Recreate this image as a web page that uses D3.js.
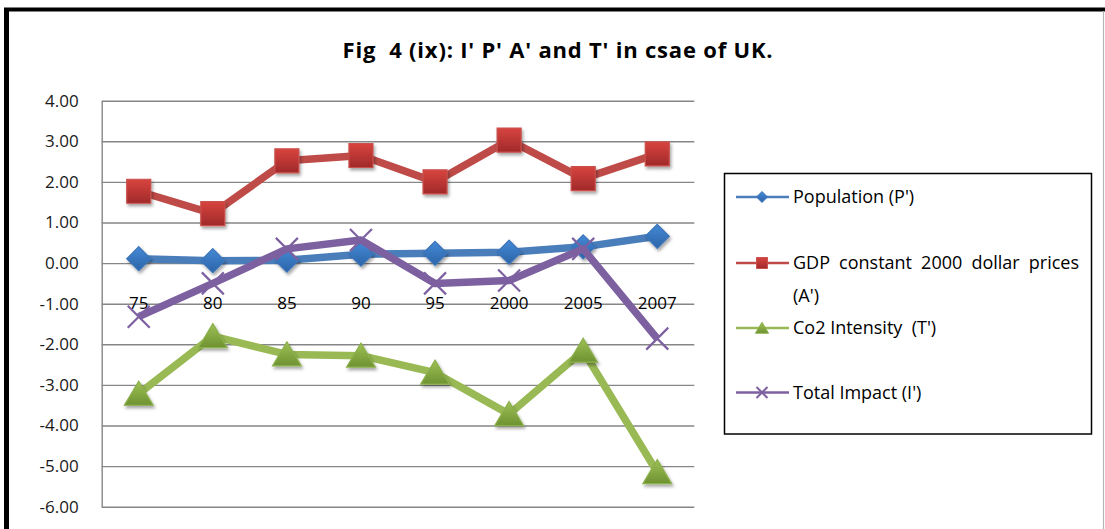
<!DOCTYPE html>
<html>
<head>
<meta charset="utf-8">
<script src="https://cdn.jsdelivr.net/npm/d3@7"></script>
<style>
  html, body { margin: 0; padding: 0; background: #fff; }
  svg { display: block; font-family: "Open Sans", "Noto Sans", sans-serif; }
</style>
</head>
<body>
<svg id="chart" width="1105" height="529"></svg>
<script>
// Years on the category axis
const years = ["75", "80", "85", "90", "95", "2000", "2005", "2007"];

// Series values
const population   = [0.11, 0.06, 0.07, 0.22, 0.24, 0.27, 0.40, 0.66];
const gdp          = [1.77, 1.22, 2.52, 2.65, 2.00, 3.03, 2.08, 2.69];
const co2Intensity = [-3.22, -1.80, -2.25, -2.28, -2.70, -3.72, -2.16, -5.15];
const totalImpact  = [-1.32, -0.50, 0.35, 0.57, -0.50, -0.43, 0.35, -1.86];

// Y-axis tick values
const yTicks = [4, 3, 2, 1, 0, -1, -2, -3, -4, -5, -6];

const titleText = "Fig \u00A04 (ix): I' P' A' and T' in csae of UK.";

const seriesNames = ["Population (P')", "GDP constant 2000 dollar prices (A')", "Co2 Intensity \u00A0(T')", "Total Impact (I')"];

const series = [
  { name: seriesNames[0], values: population,   line: "#4a7ebb", marker: "diamond",  top: "#4489d6", bottom: "#2c64a8", edge: "#3b74b8" },
  { name: seriesNames[1], values: gdp,          line: "#be4b48", marker: "square",   top: "#d8443f", bottom: "#a0292a", edge: "#c9504c" },
  { name: seriesNames[2], values: co2Intensity, line: "#98b954", marker: "triangle", top: "#9dc055", bottom: "#6f9232", edge: "#8cb04c" },
  { name: seriesNames[3], values: totalImpact,  line: "#7d60a0", marker: "x",        top: "#7d60a0", bottom: "#7d60a0", edge: "#7d60a0" }
];

const svg = d3.select("#chart");

// Frame: heavy top and left rule, light right edge
svg.append("line").attr("x1", 4).attr("x2", 1105).attr("y1", 9.5).attr("y2", 9.5)
  .attr("stroke", "#000").attr("stroke-width", 4);
svg.append("line").attr("x1", 6.5).attr("x2", 6.5).attr("y1", 8).attr("y2", 529)
  .attr("stroke", "#000").attr("stroke-width", 5);
svg.append("line").attr("x1", 1103.5).attr("x2", 1103.5).attr("y1", 11).attr("y2", 529)
  .attr("stroke", "#b5b5b5").attr("stroke-width", 1.2);

// Title
svg.append("text")
  .attr("x", 558).attr("y", 58)
  .attr("text-anchor", "middle")
  .attr("font-size", 22).attr("font-weight", 700)
  .attr("letter-spacing", 0.8)
  .attr("fill", "#000")
  .text(titleText);

// Defs: marker gradients and soft shadow
const defs = svg.append("defs");
series.forEach((s, i) => {
  const g = defs.append("linearGradient").attr("id", "grad" + i)
    .attr("x1", 0).attr("y1", 0).attr("x2", 0).attr("y2", 1);
  g.append("stop").attr("offset", "0%").attr("stop-color", s.top);
  g.append("stop").attr("offset", "100%").attr("stop-color", s.bottom);
});
const shadow = defs.append("filter").attr("id", "shadow")
  .attr("x", "-50%").attr("y", "-50%").attr("width", "200%").attr("height", "200%");
shadow.append("feDropShadow").attr("dx", 1.5).attr("dy", 2.5)
  .attr("stdDeviation", 1.6).attr("flood-color", "#000").attr("flood-opacity", 0.35);

// Plot area
const plot = { left: 101.7, right: 694.3, top: 100.7, bottom: 506.7 };

const x = d3.scaleBand().domain(years).range([plot.left, plot.right]);
const cx = d => x(d) + x.bandwidth() / 2;
const y = d3.scaleLinear().domain([-6, 4]).range([plot.bottom, plot.top]);

// Horizontal gridlines
const grid = svg.append("g")
  .attr("transform", `translate(${plot.left},0)`)
  .call(d3.axisLeft(y).tickValues(yTicks).tickSize(-(plot.right - plot.left)).tickFormat(""));
grid.select(".domain").remove();
grid.selectAll(".tick line").attr("stroke", "#868686").attr("stroke-width", 1.4);

// Y axis with labels (plain hyphen for negatives)
const yAxis = svg.append("g")
  .attr("transform", `translate(${plot.left},0)`)
  .call(d3.axisLeft(y).tickValues(yTicks).tickSize(0).tickSizeOuter(0).tickPadding(23)
    .tickFormat(d => d.toFixed(2)));
yAxis.select(".domain").attr("stroke", "#868686").attr("stroke-width", 1.4);
yAxis.selectAll("text").attr("font-size", 17).attr("fill", "#1a1a1a")
  .attr("font-family", "'Open Sans', sans-serif");

// X axis labels, hung below the zero line
const xAxis = svg.append("g")
  .attr("transform", `translate(0,${y(0)})`)
  .call(d3.axisBottom(x).tickSize(0).tickPadding(34));
xAxis.select(".domain").remove();
xAxis.selectAll("text").attr("font-size", 17).attr("fill", "#000")
  .attr("font-family", "'Open Sans', sans-serif");

// Marker shapes
function markerPath(type, r) {
  if (type === "diamond") return `M0,${-r}L${r},0L0,${r}L${-r},0Z`;
  if (type === "square") return `M${-r},${-r}H${r}V${r}H${-r}Z`;
  if (type === "triangle") return `M0,${-r * 1.05}L${r * 1.2},${r * 0.95}L${-r * 1.2},${r * 0.95}Z`;
  return `M${-r},${-r}L${r},${r}M${r},${-r}L${-r},${r}`;
}
const markerSize = { diamond: 12, square: 12, triangle: 12, x: 11 };

const line = d3.line().x(d => cx(d.year)).y(d => y(d.value));

series.forEach((s, i) => {
  const pts = years.map((yr, j) => ({ year: yr, value: s.values[j] }));
  const g = svg.append("g");
  g.append("path").datum(pts)
    .attr("d", line)
    .attr("fill", "none")
    .attr("stroke", s.line)
    .attr("stroke-width", 7.5)
    .attr("stroke-linejoin", "round");
  const m = g.selectAll(".m").data(pts).join("path")
    .attr("transform", d => `translate(${cx(d.year)},${y(d.value)})`)
    .attr("d", markerPath(s.marker, markerSize[s.marker]));
  if (s.marker === "x") {
    m.attr("fill", "none").attr("stroke", s.line).attr("stroke-width", 2.2);
  } else {
    m.attr("fill", `url(#grad${i})`).attr("stroke", s.edge).attr("stroke-width", 1.2)
      .attr("filter", "url(#shadow)");
  }
});

// Legend
const legend = svg.append("g");
legend.append("rect")
  .attr("x", 724.5).attr("y", 173.5).attr("width", 367).attr("height", 260.5)
  .attr("fill", "#fff").attr("stroke", "#000").attr("stroke-width", 1.5);

const rowY = [197, 263, 328, 392.5];
const textX = 793;
series.forEach((s, i) => {
  const ry = rowY[i];
  legend.append("line").attr("x1", 736).attr("x2", 789).attr("y1", ry).attr("y2", ry)
    .attr("stroke", s.line).attr("stroke-width", 2.6);
  const mk = legend.append("path")
    .attr("transform", `translate(762,${ry})`)
    .attr("d", markerPath(s.marker, 5.5));
  if (s.marker === "x") {
    mk.attr("fill", "none").attr("stroke", s.line).attr("stroke-width", 2);
  } else {
    mk.attr("fill", `url(#grad${i})`).attr("stroke", s.edge).attr("stroke-width", 1);
  }
});

function legendText(str, yy) {
  return legend.append("text").attr("x", textX).attr("y", yy + 6)
    .attr("font-size", 18).attr("fill", "#000").text(str);
}
legendText(seriesNames[0], rowY[0]);
// GDP label wraps onto two lines; first line is justified across the box
const gdpWords = seriesNames[1].split(" (");
const first = legendText(gdpWords[0], rowY[1]);
const natural = first.node().getComputedTextLength();
const spaces = (gdpWords[0].match(/ /g) || []).length;
first.style("word-spacing", ((1079 - textX - natural) / spaces) + "px");
legendText("(" + gdpWords[1], rowY[1] + 33);
legendText(seriesNames[2], rowY[2]);
legendText(seriesNames[3], rowY[3]);
</script>
</body>
</html>
